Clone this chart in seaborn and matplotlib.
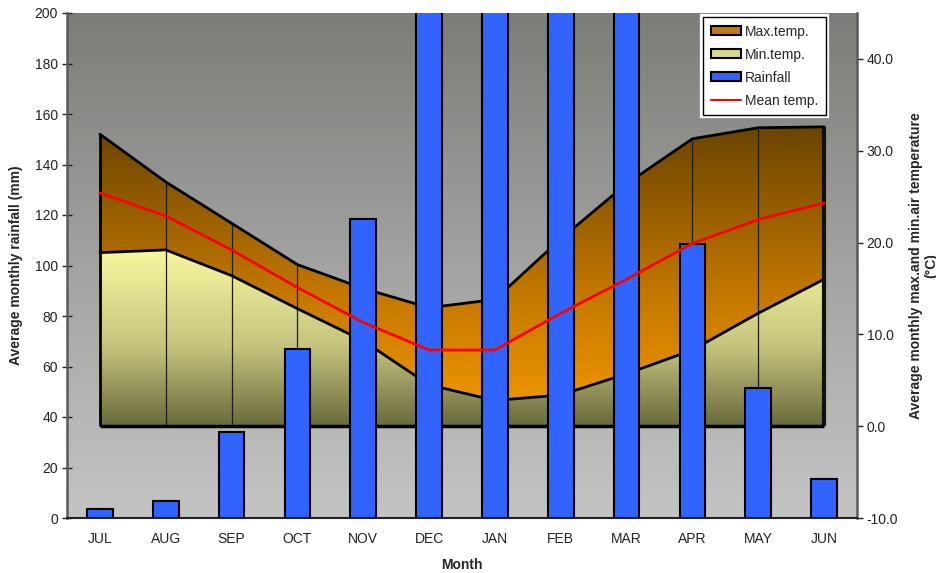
import numpy as np
import matplotlib
matplotlib.use("Agg")
import matplotlib.pyplot as plt
import matplotlib.patheffects as pe
import seaborn as sns
from matplotlib.colors import LinearSegmentedColormap
from matplotlib.patches import Patch, PathPatch
from matplotlib.lines import Line2D
from matplotlib.ticker import FormatStrFormatter

# ---- data -------------------------------------------------------------
months = ["JUL", "AUG", "SEP", "OCT", "NOV", "DEC",
          "JAN", "FEB", "MAR", "APR", "MAY", "JUN"]
rainfall_mm = [3.4, 6.9, 34.2, 67.0, 118.4, 235.0,
               305.0, 280.0, 245.0, 108.5, 51.4, 15.4]
max_temp = [31.8, 26.6, 22.1, 17.6, 15.0, 12.9,
            13.8, 20.4, 26.4, 31.3, 32.5, 32.6]
min_temp = [18.9, 19.2, 16.4, 12.8, 9.3, 4.5,
            2.8, 3.4, 5.7, 8.3, 12.3, 16.0]
mean_temp = [25.4, 22.9, 19.2, 15.1, 11.3, 8.3,
             8.3, 12.3, 16.0, 19.9, 22.5, 24.3]
rain_ticks = list(range(0, 201, 20))
temp_ticks = list(range(-10, 41, 10))

# ---- style ------------------------------------------------------------
sns.set_style("white")
plt.rcParams["font.family"] = ["Liberation Sans", "DejaVu Sans"]
plt.rcParams["font.size"] = 10

W, H = 937, 573
L, R, T, B = 67, 857, 13, 518
fig = plt.figure(figsize=(W / 100, H / 100), dpi=100, facecolor="white")
ax_t = fig.add_axes([L / W, 1 - B / H, (R - L) / W, (B - T) / H])
ax_r = ax_t.twinx()   # rainfall bars
ax_m = ax_t.twinx()   # mean temperature line on top

x = np.arange(len(months))

# plot-area background: darker grey at the top, lighter at the bottom
bg_cmap = LinearSegmentedColormap.from_list("bg", ["#c4c4c4", "#a3a3a1", "#7a7d78"])
ax_t.imshow(np.linspace(0, 1, 256).reshape(-1, 1), cmap=bg_cmap, origin="lower",
            aspect="auto", extent=[0, 1, 0, 1], transform=ax_t.transAxes,
            zorder=0, interpolation="bilinear")


def gradient_area(ax, xs, ys, stops, z):
    coll = ax.fill_between(xs, 0, ys, facecolor="none", edgecolor="none", zorder=z)
    clip = PathPatch(coll.get_paths()[0], transform=ax.transData,
                     facecolor="none", edgecolor="none")
    ax.add_patch(clip)
    cmap = LinearSegmentedColormap.from_list("area", stops)
    im = ax.imshow(np.linspace(0, 1, 256).reshape(-1, 1), cmap=cmap, origin="lower",
                   aspect="auto", extent=[xs[0], xs[-1], 0, max(ys)], zorder=z,
                   interpolation="bilinear")
    im.set_clip_path(clip)


gradient_area(ax_t, x, max_temp,
              [(0, "#f69b00"), (0.45, "#c27700"), (1, "#6a4400")], 1.5)
gradient_area(ax_t, x, min_temp,
              [(0, "#6a6a3c"), (0.45, "#c4c47e"), (1, "#f8f8a0")], 2)

# outlines of the temperature band
ax_t.plot(x, max_temp, color="black", lw=2, zorder=4, solid_joinstyle="miter")
ax_t.plot(x, min_temp, color="black", lw=2, zorder=4)
ax_t.vlines(x[1:-1], 0, max_temp[1:-1], colors="#1e1e1e", lw=0.9, zorder=3.5)
ax_t.vlines(x[0], 0, max_temp[0], colors="black", lw=2, zorder=4)
ax_t.vlines(x[-1], 0, max_temp[-1], colors="#111111", lw=3, zorder=4)
ax_t.hlines(0, x[0], x[-1], colors="black", lw=2.5, zorder=4)

# rainfall bars
sns.barplot(x=months, y=rainfall_mm, ax=ax_r, color="#3164ff", saturation=1,
            edgecolor="black", linewidth=1.5, width=0.39, errorbar=None)

# mean temperature
sns.lineplot(x=x, y=mean_temp, ax=ax_m, color="#ff0000", lw=2)

# ---- axes -------------------------------------------------------------
for ax in (ax_t, ax_m):
    ax.set_ylim(-10, 45)
ax_r.set_ylim(0, 200)
for ax in (ax_t, ax_r, ax_m):
    ax.set_xlim(-0.5, 11.5)
    for s in ax.spines.values():
        s.set_visible(False)

ax_r.spines["left"].set_visible(True)
ax_r.spines["left"].set_color("#5a5a5a")
ax_r.spines["left"].set_linewidth(1.8)
ax_r.spines["right"].set_visible(True)
ax_r.spines["right"].set_color("#5a5a5a")
ax_r.spines["right"].set_linewidth(1.8)
ax_r.spines["bottom"].set_visible(True)
ax_r.spines["bottom"].set_color("#222222")
ax_r.spines["bottom"].set_linewidth(1.5)

ax_r.yaxis.tick_left()
ax_r.yaxis.set_label_position("left")
ax_r.set_yticks(rain_ticks)
ax_r.tick_params(axis="y", direction="inout", length=7, width=1, pad=3,
                 labelsize=10, colors="#222222")
ax_r.set_ylabel("Average monthly rainfall (mm)", fontweight="bold",
                fontsize=10, labelpad=8)
ax_r.set_xlabel("")

ax_t.yaxis.tick_right()
ax_t.yaxis.set_label_position("right")
ax_t.set_yticks(temp_ticks)
ax_t.yaxis.set_major_formatter(FormatStrFormatter("%.1f"))
ax_t.tick_params(axis="y", direction="out", length=4, width=1, pad=3,
                 labelsize=10, colors="#222222")
ax_t.set_ylabel("Average monthly max.and min.air temperature\n(\u00b0C)",
                fontweight="bold", fontsize=10, labelpad=8, linespacing=1.1)

ax_m.yaxis.set_visible(False)
ax_m.set_ylabel("")
ax_m.set_xlabel("")

ax_t.set_xticks(x)
ax_t.set_xticklabels(months)
ax_t.set_xticks(np.arange(-0.5, 12, 1), minor=True)
ax_t.tick_params(axis="x", which="major", length=0, pad=10,
                 labelsize=10, colors="#222222")
ax_t.tick_params(axis="x", which="minor", direction="out", length=5, width=1,
                 colors="#222222")
ax_t.set_xlabel("Month", fontweight="bold", fontsize=10, labelpad=9)

# ---- legend -----------------------------------------------------------
handles = [
    Patch(facecolor="#c27a14", edgecolor="black", linewidth=1.5),
    Patch(facecolor="#d9d98e", edgecolor="black", linewidth=1.5),
    Patch(facecolor="#3164ff", edgecolor="black", linewidth=1.5),
    Line2D([], [], color="#ff0000", lw=1.5),
]
labels = ["Max.temp.", "Min.temp.", "Rainfall", "Mean temp."]
leg = ax_m.legend(handles, labels, loc="upper right",
                  bbox_to_anchor=(0.961, 0.992), borderaxespad=0,
                  frameon=True, fancybox=False, framealpha=1,
                  edgecolor="black", facecolor="white", fontsize=10,
                  handlelength=2.2, handleheight=0.6, handletextpad=0.3,
                  labelspacing=0.65, borderpad=0.55)
leg.get_frame().set_linewidth(1)
leg.get_frame().set_path_effects([pe.withStroke(linewidth=4.5, foreground="white")])

fig.savefig("out.png", dpi=100, facecolor="white")
